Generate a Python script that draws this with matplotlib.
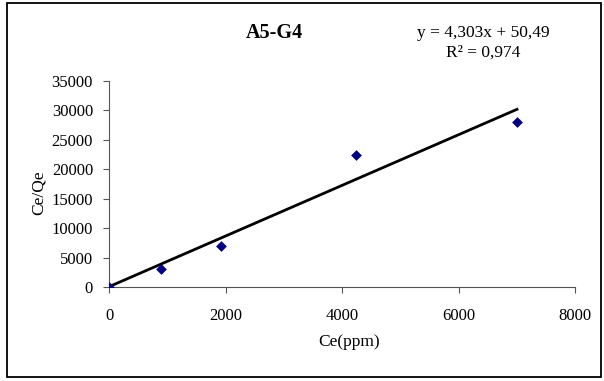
import matplotlib
matplotlib.use("Agg")
import matplotlib.pyplot as plt
from matplotlib.patches import Rectangle
import numpy as np

plt.rcParams['font.family'] = ['Liberation Serif', 'DejaVu Serif']

# Isotherm data: equilibrium concentration vs Ce/Qe
ce = [0, 899, 1930, 4239, 7004]
ce_qe = [0, 3120, 6978, 22410, 28030]

# Linear trendline
slope = 4.303
intercept = 50.49
r2 = 0.974

x_ticks = [0, 2000, 4000, 6000, 8000]
y_ticks = [0, 5000, 10000, 15000, 20000, 25000, 30000, 35000]

fig = plt.figure(figsize=(6.04, 3.81), dpi=100)
ax = fig.add_axes([109/604, 1-287/381, 466/604, 206/381])

xl = np.array([min(ce), max(ce)])
ax.plot(xl, slope*xl + intercept, color='black', lw=2.0, zorder=2)
ax.scatter(ce, ce_qe, marker='D', s=30, color='#000080', zorder=3, linewidths=0)

ax.set_xlim(0, 8000)
ax.set_ylim(0, 35000)
ax.set_xticks(x_ticks)
ax.set_yticks(y_ticks)
ax.tick_params(labelsize=12, length=4, width=0.8, color='#555555')
ax.tick_params(axis='x', pad=11)
ax.tick_params(axis='y', pad=7.5)
for s in ['top', 'right']:
    ax.spines[s].set_visible(False)
for s in ['left', 'bottom']:
    ax.spines[s].set_color('#555555')
    ax.spines[s].set_linewidth(0.8)
ax.set_xlabel('Ce(ppm)', fontsize=12.5)
ax.set_ylabel('Ce/Qe', fontsize=12.5)
ax.xaxis.set_label_coords(240/466, -55/206)
ax.yaxis.set_label_coords(-70/466, 94/206)
ax.xaxis.label.set_va('center')
ax.yaxis.label.set_va('center')
ax.patch.set_alpha(0)

fig.text(274/604, 1-33/381, 'A5-G4', ha='center', va='center', fontsize=14.5, fontweight='bold')
fig.text(483/604, 1-33/381, f'y = {slope:.3f}x + {intercept:.2f}'.replace('.', ','),
         ha='center', va='center', fontsize=12.5)
fig.text(483/604, 1-53/381, f'R² = {r2:.3f}'.replace('.', ','),
         ha='center', va='center', fontsize=12.5)

fig.patches.append(Rectangle((7/604, 1-377/381), 594/604, 374/381, transform=fig.transFigure,
                             fill=False, edgecolor='black', lw=1.3))

fig.savefig('out.png', dpi=100)
